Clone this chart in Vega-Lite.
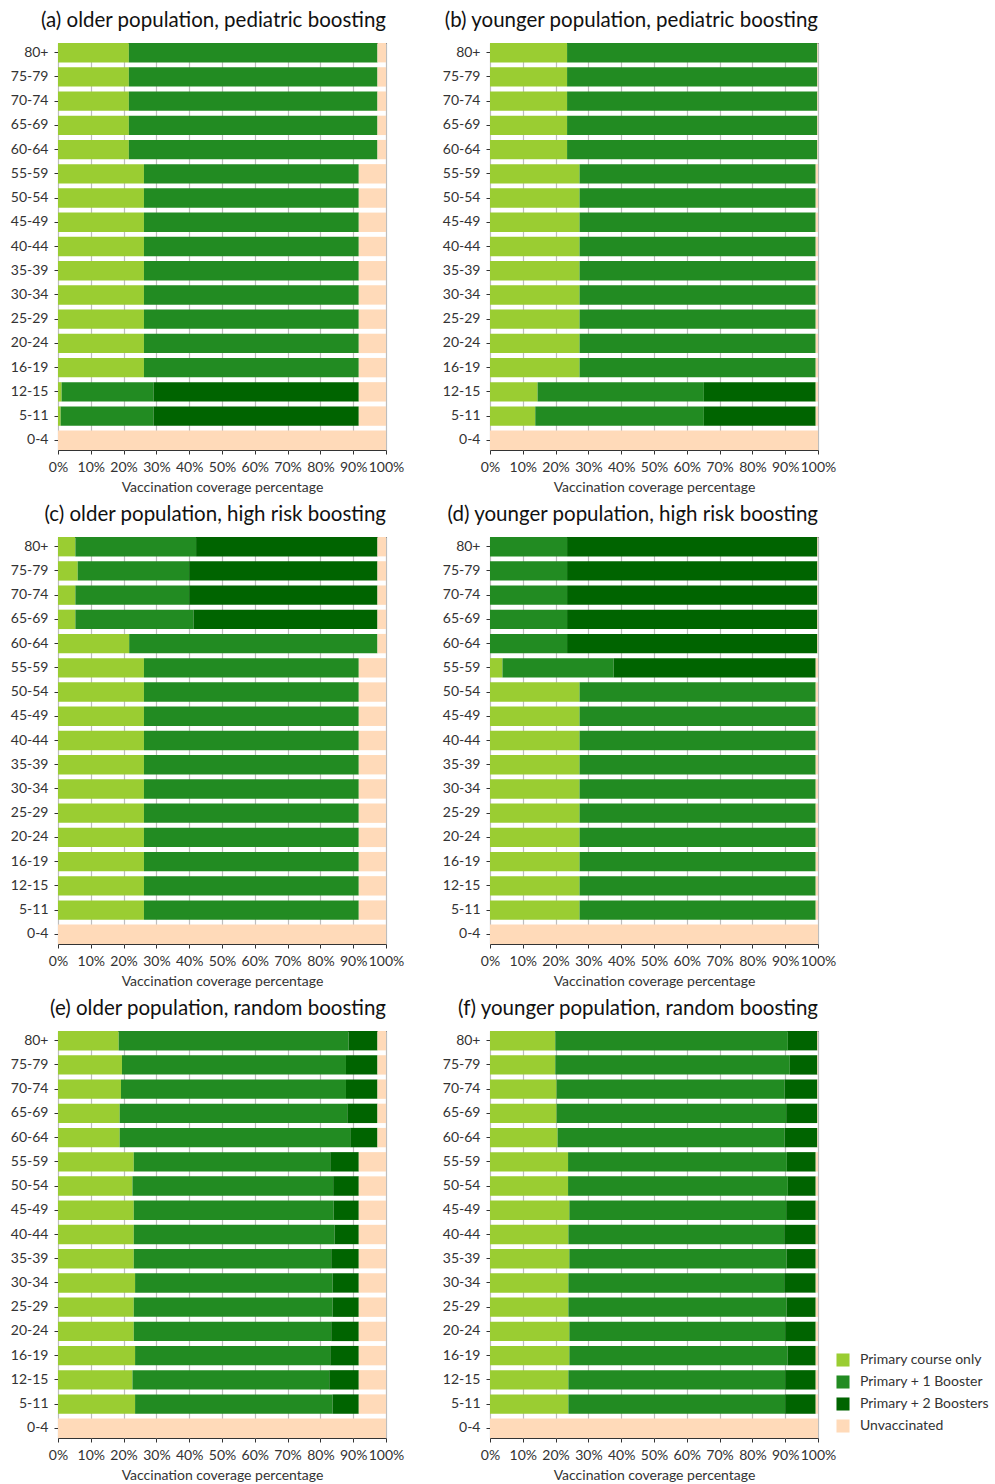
{
  "$schema": "https://vega.github.io/schema/vega-lite/v6.json",
  "background": "white",
  "padding": {"left": 9, "top": 10, "right": 5, "bottom": 5},
  "data": {"values": [
    {"p":"a","age":"80+","P":21.6,"B1":75.8,"B2":0,"U":2.6},
    {"p":"a","age":"75-79","P":21.6,"B1":75.8,"B2":0,"U":2.6},
    {"p":"a","age":"70-74","P":21.6,"B1":75.8,"B2":0,"U":2.6},
    {"p":"a","age":"65-69","P":21.6,"B1":75.8,"B2":0,"U":2.6},
    {"p":"a","age":"60-64","P":21.6,"B1":75.8,"B2":0,"U":2.6},
    {"p":"a","age":"55-59","P":26.2,"B1":65.5,"B2":0,"U":8.3},
    {"p":"a","age":"50-54","P":26.2,"B1":65.5,"B2":0,"U":8.3},
    {"p":"a","age":"45-49","P":26.2,"B1":65.5,"B2":0,"U":8.3},
    {"p":"a","age":"40-44","P":26.2,"B1":65.5,"B2":0,"U":8.3},
    {"p":"a","age":"35-39","P":26.2,"B1":65.5,"B2":0,"U":8.3},
    {"p":"a","age":"30-34","P":26.2,"B1":65.5,"B2":0,"U":8.3},
    {"p":"a","age":"25-29","P":26.2,"B1":65.5,"B2":0,"U":8.3},
    {"p":"a","age":"20-24","P":26.2,"B1":65.5,"B2":0,"U":8.3},
    {"p":"a","age":"16-19","P":26.2,"B1":65.5,"B2":0,"U":8.3},
    {"p":"a","age":"12-15","P":1.1,"B1":28.0,"B2":62.6,"U":8.3},
    {"p":"a","age":"5-11","P":0.8,"B1":28.3,"B2":62.6,"U":8.3},
    {"p":"a","age":"0-4","P":0,"B1":0,"B2":0,"U":100},

    {"p":"b","age":"80+","P":23.5,"B1":76.3,"B2":0,"U":0.2},
    {"p":"b","age":"75-79","P":23.5,"B1":76.3,"B2":0,"U":0.2},
    {"p":"b","age":"70-74","P":23.5,"B1":76.3,"B2":0,"U":0.2},
    {"p":"b","age":"65-69","P":23.5,"B1":76.3,"B2":0,"U":0.2},
    {"p":"b","age":"60-64","P":23.5,"B1":76.3,"B2":0,"U":0.2},
    {"p":"b","age":"55-59","P":27.3,"B1":72.0,"B2":0,"U":0.7},
    {"p":"b","age":"50-54","P":27.3,"B1":72.0,"B2":0,"U":0.7},
    {"p":"b","age":"45-49","P":27.3,"B1":72.0,"B2":0,"U":0.7},
    {"p":"b","age":"40-44","P":27.3,"B1":72.0,"B2":0,"U":0.7},
    {"p":"b","age":"35-39","P":27.3,"B1":72.0,"B2":0,"U":0.7},
    {"p":"b","age":"30-34","P":27.3,"B1":72.0,"B2":0,"U":0.7},
    {"p":"b","age":"25-29","P":27.3,"B1":72.0,"B2":0,"U":0.7},
    {"p":"b","age":"20-24","P":27.3,"B1":72.0,"B2":0,"U":0.7},
    {"p":"b","age":"16-19","P":27.3,"B1":72.0,"B2":0,"U":0.7},
    {"p":"b","age":"12-15","P":14.5,"B1":50.7,"B2":34.1,"U":0.7},
    {"p":"b","age":"5-11","P":13.8,"B1":51.4,"B2":34.1,"U":0.7},
    {"p":"b","age":"0-4","P":0,"B1":0,"B2":0,"U":100},

    {"p":"c","age":"80+","P":5.3,"B1":36.8,"B2":55.3,"U":2.6},
    {"p":"c","age":"75-79","P":6.0,"B1":34.0,"B2":57.4,"U":2.6},
    {"p":"c","age":"70-74","P":5.3,"B1":34.7,"B2":57.4,"U":2.6},
    {"p":"c","age":"65-69","P":5.3,"B1":36.0,"B2":56.1,"U":2.6},
    {"p":"c","age":"60-64","P":21.7,"B1":75.7,"B2":0,"U":2.6},
    {"p":"c","age":"55-59","P":26.2,"B1":65.5,"B2":0,"U":8.3},
    {"p":"c","age":"50-54","P":26.2,"B1":65.5,"B2":0,"U":8.3},
    {"p":"c","age":"45-49","P":26.2,"B1":65.5,"B2":0,"U":8.3},
    {"p":"c","age":"40-44","P":26.2,"B1":65.5,"B2":0,"U":8.3},
    {"p":"c","age":"35-39","P":26.2,"B1":65.5,"B2":0,"U":8.3},
    {"p":"c","age":"30-34","P":26.2,"B1":65.5,"B2":0,"U":8.3},
    {"p":"c","age":"25-29","P":26.2,"B1":65.5,"B2":0,"U":8.3},
    {"p":"c","age":"20-24","P":26.2,"B1":65.5,"B2":0,"U":8.3},
    {"p":"c","age":"16-19","P":26.2,"B1":65.5,"B2":0,"U":8.3},
    {"p":"c","age":"12-15","P":26.2,"B1":65.5,"B2":0,"U":8.3},
    {"p":"c","age":"5-11","P":26.2,"B1":65.5,"B2":0,"U":8.3},
    {"p":"c","age":"0-4","P":0,"B1":0,"B2":0,"U":100},

    {"p":"d","age":"80+","P":0,"B1":23.5,"B2":76.3,"U":0.2},
    {"p":"d","age":"75-79","P":0,"B1":23.5,"B2":76.3,"U":0.2},
    {"p":"d","age":"70-74","P":0,"B1":23.5,"B2":76.3,"U":0.2},
    {"p":"d","age":"65-69","P":0,"B1":23.5,"B2":76.3,"U":0.2},
    {"p":"d","age":"60-64","P":0,"B1":23.5,"B2":76.3,"U":0.2},
    {"p":"d","age":"55-59","P":3.8,"B1":33.9,"B2":61.6,"U":0.7},
    {"p":"d","age":"50-54","P":27.3,"B1":72.0,"B2":0,"U":0.7},
    {"p":"d","age":"45-49","P":27.3,"B1":72.0,"B2":0,"U":0.7},
    {"p":"d","age":"40-44","P":27.3,"B1":72.0,"B2":0,"U":0.7},
    {"p":"d","age":"35-39","P":27.3,"B1":72.0,"B2":0,"U":0.7},
    {"p":"d","age":"30-34","P":27.3,"B1":72.0,"B2":0,"U":0.7},
    {"p":"d","age":"25-29","P":27.3,"B1":72.0,"B2":0,"U":0.7},
    {"p":"d","age":"20-24","P":27.3,"B1":72.0,"B2":0,"U":0.7},
    {"p":"d","age":"16-19","P":27.3,"B1":72.0,"B2":0,"U":0.7},
    {"p":"d","age":"12-15","P":27.3,"B1":72.0,"B2":0,"U":0.7},
    {"p":"d","age":"5-11","P":27.3,"B1":72.0,"B2":0,"U":0.7},
    {"p":"d","age":"0-4","P":0,"B1":0,"B2":0,"U":100},

    {"p":"e","age":"80+","P":18.5,"B1":70.1,"B2":8.8,"U":2.6},
    {"p":"e","age":"75-79","P":19.5,"B1":68.3,"B2":9.6,"U":2.6},
    {"p":"e","age":"70-74","P":19.2,"B1":68.6,"B2":9.6,"U":2.6},
    {"p":"e","age":"65-69","P":18.8,"B1":69.4,"B2":9.2,"U":2.6},
    {"p":"e","age":"60-64","P":18.8,"B1":70.3,"B2":8.3,"U":2.6},
    {"p":"e","age":"55-59","P":23.1,"B1":59.9,"B2":8.7,"U":8.3},
    {"p":"e","age":"50-54","P":22.7,"B1":61.2,"B2":7.8,"U":8.3},
    {"p":"e","age":"45-49","P":23.1,"B1":60.9,"B2":7.7,"U":8.3},
    {"p":"e","age":"40-44","P":23.1,"B1":61.2,"B2":7.4,"U":8.3},
    {"p":"e","age":"35-39","P":23.1,"B1":60.2,"B2":8.4,"U":8.3},
    {"p":"e","age":"30-34","P":23.5,"B1":60.2,"B2":8.0,"U":8.3},
    {"p":"e","age":"25-29","P":23.1,"B1":60.6,"B2":8.0,"U":8.3},
    {"p":"e","age":"20-24","P":23.1,"B1":60.2,"B2":8.4,"U":8.3},
    {"p":"e","age":"16-19","P":23.5,"B1":59.5,"B2":8.7,"U":8.3},
    {"p":"e","age":"12-15","P":22.7,"B1":60.0,"B2":9.0,"U":8.3},
    {"p":"e","age":"5-11","P":23.5,"B1":60.2,"B2":8.0,"U":8.3},
    {"p":"e","age":"0-4","P":0,"B1":0,"B2":0,"U":100},

    {"p":"f","age":"80+","P":19.9,"B1":70.9,"B2":9.0,"U":0.2},
    {"p":"f","age":"75-79","P":19.9,"B1":71.5,"B2":8.4,"U":0.2},
    {"p":"f","age":"70-74","P":20.3,"B1":69.5,"B2":10.0,"U":0.2},
    {"p":"f","age":"65-69","P":20.3,"B1":70.0,"B2":9.5,"U":0.2},
    {"p":"f","age":"60-64","P":20.6,"B1":69.2,"B2":10.0,"U":0.2},
    {"p":"f","age":"55-59","P":23.8,"B1":66.7,"B2":8.8,"U":0.7},
    {"p":"f","age":"50-54","P":23.8,"B1":67.0,"B2":8.5,"U":0.7},
    {"p":"f","age":"45-49","P":24.2,"B1":66.1,"B2":9.0,"U":0.7},
    {"p":"f","age":"40-44","P":23.9,"B1":65.8,"B2":9.6,"U":0.7},
    {"p":"f","age":"35-39","P":24.2,"B1":66.2,"B2":8.9,"U":0.7},
    {"p":"f","age":"30-34","P":23.9,"B1":65.8,"B2":9.6,"U":0.7},
    {"p":"f","age":"25-29","P":23.9,"B1":66.5,"B2":8.9,"U":0.7},
    {"p":"f","age":"20-24","P":24.2,"B1":65.8,"B2":9.3,"U":0.7},
    {"p":"f","age":"16-19","P":24.2,"B1":66.5,"B2":8.6,"U":0.7},
    {"p":"f","age":"12-15","P":23.9,"B1":66.1,"B2":9.3,"U":0.7},
    {"p":"f","age":"5-11","P":23.9,"B1":66.1,"B2":9.3,"U":0.7},
    {"p":"f","age":"0-4","P":0,"B1":0,"B2":0,"U":100}
  ]},
  "transform": [
    {"fold": ["P", "B1", "B2", "U"], "as": ["key", "value"]},
    {"calculate": "datum.key == 'P' ? 'Primary course only' : datum.key == 'B1' ? 'Primary + 1 Booster' : datum.key == 'B2' ? 'Primary + 2 Boosters' : 'Unvaccinated'", "as": "status"},
    {"calculate": "indexof(['P', 'B1', 'B2', 'U'], datum.key)", "as": "rank"},
    {"calculate": "datum.p == 'a' ? '(a) older population, pediatric boosting' : datum.p == 'b' ? '(b) younger population, pediatric boosting' : datum.p == 'c' ? '(c) older population, high risk boosting' : datum.p == 'd' ? '(d) younger population, high risk boosting' : datum.p == 'e' ? '(e) older population, random boosting' : '(f) younger population, random boosting'", "as": "panel"}
  ],
  "facet": {
    "field": "panel",
    "type": "nominal",
    "header": {"title": null, "labelFont": "Lato", "labelFontSize": 20.5, "labelColor": "#111", "labelPadding": 12, "labelOrient": "top", "labelAnchor": "end", "labelAlign": "right"}
  },
  "columns": 2,
  "spacing": {"row": 9, "column": 36},
  "resolve": {"axis": {"x": "independent", "y": "independent"}},
  "spec": {
    "width": 328,
    "height": 407,
    "mark": {"type": "bar"},
    "encoding": {
      "y": {
        "field": "age",
        "type": "nominal",
        "sort": ["80+", "75-79", "70-74", "65-69", "60-64", "55-59", "50-54", "45-49", "40-44", "35-39", "30-34", "25-29", "20-24", "16-19", "12-15", "5-11", "0-4"],
        "scale": {"paddingInner": 0.2, "paddingOuter": 0},
        "axis": {"title": null, "grid": false, "domain": false, "labelPadding": 6, "tickSize": 4}
      },
      "x": {
        "field": "value",
        "type": "quantitative",
        "stack": "zero",
        "scale": {"domain": [0, 100], "nice": false},
        "axis": {
          "values": [0, 10, 20, 30, 40, 50, 60, 70, 80, 90, 100],
          "labelExpr": "datum.value + '%'",
          "grid": true,
          "domain": false,
          "title": "Vaccination coverage percentage",
          "labelPadding": 6,
          "titlePadding": 6,
          "labelFlush": false,
          "labelOverlap": false,
          "tickSize": 4
        }
      },
      "color": {
        "field": "status",
        "type": "nominal",
        "scale": {
          "domain": ["Primary course only", "Primary + 1 Booster", "Primary + 2 Boosters", "Unvaccinated"],
          "range": ["#9acd32", "#228b22", "#006400", "#ffdab9"]
        },
        "legend": {
          "title": null,
          "orient": "none",
          "legendX": 778,
          "legendY": 1310,
          "symbolType": "square",
          "symbolSize": 170,
          "symbolStrokeWidth": 0,
          "labelFont": "Lato",
          "labelFontSize": 14,
          "labelColor": "#333",
          "rowPadding": 8,
          "labelOffset": 10
        }
      },
      "order": {"field": "rank", "type": "quantitative"}
    }
  },
  "config": {
    "font": "Lato",
    "view": {"stroke": "#333", "strokeWidth": 1},
    "axis": {
      "labelFont": "Lato",
      "labelFontSize": 14,
      "labelColor": "#333",
      "tickColor": "#333",
      "domainColor": "#333",
      "titleFont": "Lato",
      "titleFontSize": 14,
      "titleFontWeight": "normal",
      "titleColor": "#333",
      "gridColor": "#bdbdbd",
      "gridWidth": 1.2
    }
  }
}
